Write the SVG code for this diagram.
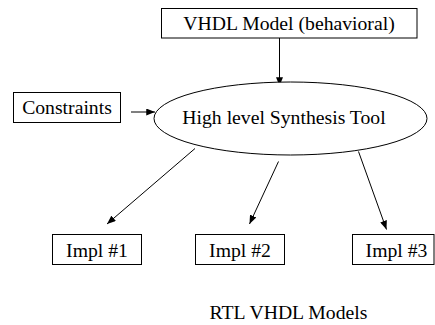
<svg xmlns="http://www.w3.org/2000/svg" width="435" height="325" viewBox="0 0 435 325">
<style>
.box{fill:#fff;stroke:#000;stroke-width:1}
.t{font-family:"Liberation Serif","Times New Roman",serif;font-size:19.7px;fill:#000}
.c{stroke:#000;stroke-width:1;fill:none;marker-end:url(#ah)}
</style>
<defs>
<marker id="ah" viewBox="0 0 10 8" refX="10" refY="4" markerWidth="9" markerHeight="7" markerUnits="userSpaceOnUse" orient="auto">
<path d="M0,0 L10,4 L0,8 z" fill="#000"/>
</marker>
</defs>
<rect width="435" height="325" fill="#fff"/>
<g id="connectors">
<line class="c" x1="279.5" y1="38" x2="279.5" y2="86"/>
<line class="c" x1="131" y1="112" x2="155" y2="112"/>
<line class="c" x1="195" y1="148.5" x2="107" y2="224"/>
<line class="c" x1="278.5" y1="161.5" x2="249.5" y2="224"/>
<line class="c" x1="358.5" y1="151.5" x2="386.5" y2="229.5"/>
</g>
<g id="vhdl">
<rect class="box" x="161.5" y="8.5" width="255.5" height="29.5"/>
<text class="t" x="289" y="30" text-anchor="middle">VHDL Model (behavioral)</text>
</g>
<g id="constraints">
<rect class="box" x="13.5" y="92.5" width="107" height="30"/>
<text class="t" x="67" y="114" text-anchor="middle">Constraints</text>
</g>
<g id="tool">
<ellipse class="box" cx="290.5" cy="118.5" rx="136.5" ry="36.5"/>
<text class="t" x="284" y="124" text-anchor="middle">High level Synthesis Tool</text>
</g>
<g id="impl1">
<rect class="box" x="52.5" y="234.5" width="89" height="30"/>
<text class="t" x="97" y="257" text-anchor="middle">Impl #1</text>
</g>
<g id="impl2">
<rect class="box" x="195.5" y="234.5" width="89" height="30"/>
<text class="t" x="240" y="257" text-anchor="middle">Impl #2</text>
</g>
<g id="impl3">
<rect class="box" x="352.5" y="234.5" width="81.5" height="30"/>
<text class="t" x="396.5" y="257" text-anchor="middle">Impl #3</text>
</g>
<g id="caption">
<text class="t" x="288.5" y="319" text-anchor="middle">RTL VHDL Models</text>
</g>
</svg>
